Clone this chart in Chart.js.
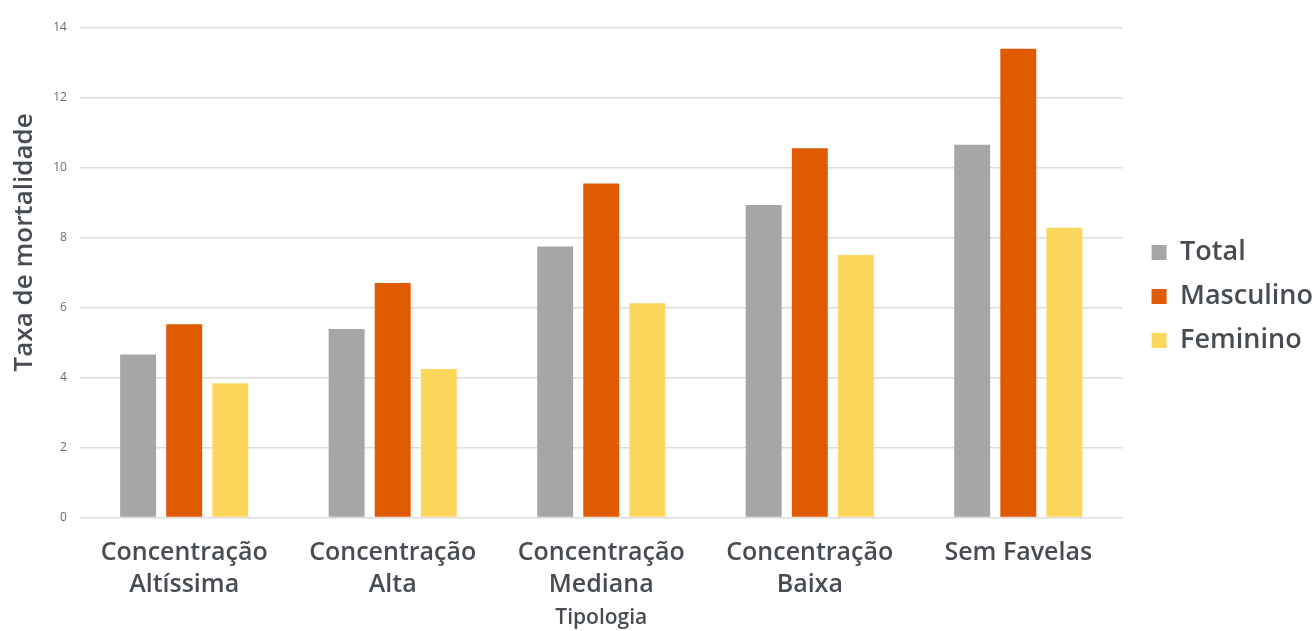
<!DOCTYPE html>
<html>
<head>
<meta charset="utf-8">
<script src="https://cdn.jsdelivr.net/npm/chart.js@4"></script>
<style>
  html, body { margin: 0; padding: 0; background: #fff; }
  #wrap { width: 1316px; height: 631px; position: relative; }
</style>
</head>
<body>
<div id="wrap"><canvas id="barChart"></canvas></div>
<script>
const categories = [
  ['Concentração', 'Altíssima'],
  ['Concentração', 'Alta'],
  ['Concentração', 'Mediana'],
  ['Concentração', 'Baixa'],
  'Sem Favelas',
];
const totalValues = [4.66, 5.39, 7.75, 8.94, 10.66];
const masculinoValues = [5.53, 6.71, 9.55, 10.56, 13.41];
const femininoValues = [3.84, 4.25, 6.13, 7.51, 8.29];

const FONT = "'Open Sans', 'DejaVu Sans', sans-serif";
const TEXT = '#474c52';

// moves the right-hand legend up and a bit further from the bars
const legendShift = {
  id: 'legendShift',
  afterLayout(chart) {
    const lg = chart.legend;
    lg.top -= 32;
    lg.bottom -= 32;
    lg.left += 12;
    lg.right += 12;
  },
};

const data = {
  labels: categories,
  datasets: [
    { label: 'Total', data: totalValues, backgroundColor: '#a6a6a6' },
    { label: 'Masculino', data: masculinoValues, backgroundColor: '#e05a00' },
    { label: 'Feminino', data: femininoValues, backgroundColor: '#fdd65c' },
  ],
};

const config = {
  type: 'bar',
  data: data,
  options: {
    responsive: true,
    maintainAspectRatio: false,
    animation: false,
    categoryPercentage: 0.663,
    barPercentage: 0.78,
    layout: {
      padding: { top: 28, left: 9, right: 5, bottom: 2 },
    },
    scales: {
      x: {
        grid: { display: false },
        border: { display: false },
        ticks: {
          color: TEXT,
          font: { family: FONT, size: 25, weight: '600', lineHeight: 1.25 },
          padding: 12,
          maxRotation: 0,
          autoSkip: false,
        },
        title: {
          display: true,
          text: 'Tipologia',
          color: TEXT,
          font: { family: FONT, size: 21, weight: '600', lineHeight: 1 },
          padding: { top: -4, bottom: 0 },
        },
      },
      y: {
        min: 0,
        max: 14,
        ticks: {
          stepSize: 2,
          color: '#6a6a6a',
          font: { family: FONT, size: 12 },
          padding: 13,
        },
        grid: { color: '#dcdcdc', lineWidth: 1.5, drawTicks: false },
        border: { display: false },
        title: {
          display: true,
          // leading spaces lift the rotated title above the axis middle
          text: '         Taxa de mortalidade',
          color: TEXT,
          font: { family: FONT, size: 26, weight: '600' },
          padding: { top: 0, bottom: 0 },
        },
      },
    },
    plugins: {
      legend: {
        position: 'right',
        labels: {
          color: TEXT,
          font: { family: FONT, size: 27, weight: '600' },
          boxWidth: 15,
          boxHeight: 15,
          padding: 17,
        },
      },
      tooltip: { enabled: false },
    },
  },
  plugins: [legendShift],
};

const ctx = document.getElementById('barChart').getContext('2d');
new Chart(ctx, config);
</script>
</body>
</html>
